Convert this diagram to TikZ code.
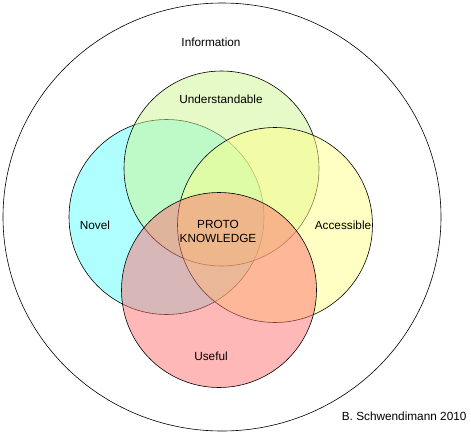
\documentclass[tikz,border=0pt]{standalone}
\usepackage{fontspec}
\setmainfont{Liberation Sans}
\usetikzlibrary{positioning}

\begin{document}
\begin{tikzpicture}[x=1pt, y=-1pt]

    % Define the circle radius and line colour
    \def\setRadius{97.5}

    \definecolor{borderColour}{HTML}{000000}
    \definecolor{novelColour}{HTML}{61FFFF}
    \definecolor{understandColour}{HTML}{CDF591}
    \definecolor{accessColour}{HTML}{FFFF87}
    \definecolor{usefulColour}{HTML}{FF7171}

    \tikzset{
        setCircle/.style={draw=borderColour, line width=0.6pt, fill opacity=0.5},
        setLabel/.style={font=\fontsize{11.8}{14}\selectfont, text=black, align=center}
    }

    % Fix the bounding box
    \useasboundingbox (0,0) rectangle (471,434);

    % Draw the outer information set
    \draw[borderColour, line width=0.6pt] (222,217) ellipse [x radius=219, y radius=214];

    % Define the centres of the four sets
    \coordinate (novelCentre) at (166.5,217);
    \coordinate (understandCentre) at (221.5,168.5);
    \coordinate (accessCentre) at (275,225);
    \coordinate (usefulCentre) at (219,290);

    % Draw the four overlapping sets
    \draw[setCircle, fill=novelColour] (novelCentre) circle [radius=\setRadius];
    \draw[setCircle, fill=understandColour] (understandCentre) circle [radius=\setRadius];
    \draw[setCircle, fill=accessColour] (accessCentre) circle [radius=\setRadius];
    \draw[setCircle, fill=usefulColour] (usefulCentre) circle [radius=\setRadius];

    % Label the sets
    \node[setLabel] (information) at (211,42) {Information};
    \node[setLabel] (understandable) at (221,99) {Understandable};
    \node[setLabel] (novel) at (95,225) {Novel};
    \node[setLabel] (accessible) at (343,225) {Accessible};
    \node[setLabel] (useful) at (211,356) {Useful};
    \node[setLabel] (proto) at (218,231) {PROTO\\KNOWLEDGE};
    \node[setLabel, anchor=east] (author) at (470,416) {B. Schwendimann 2010};

\end{tikzpicture}
\end{document}
